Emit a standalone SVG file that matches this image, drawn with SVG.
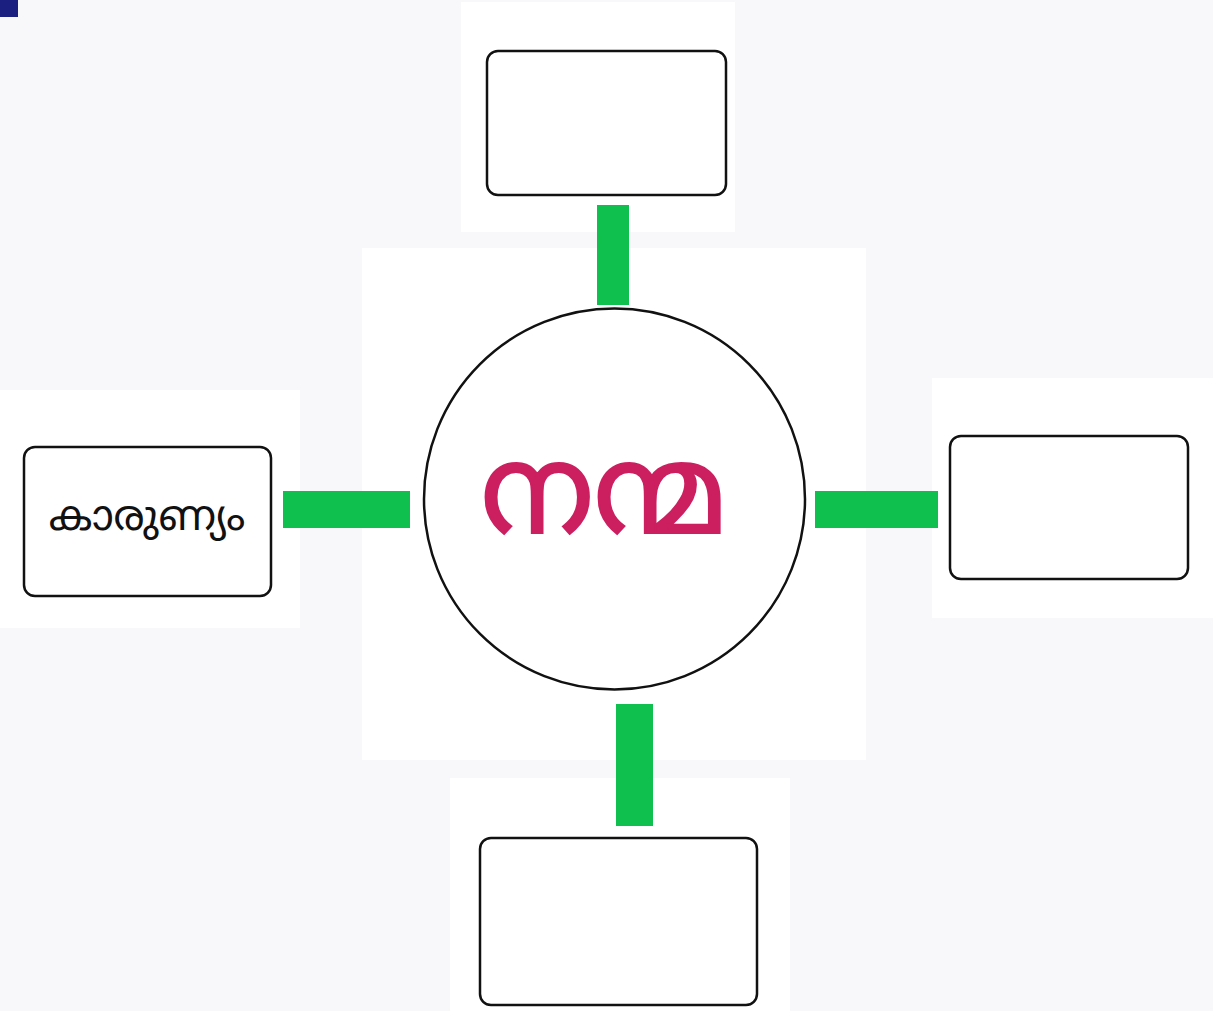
<svg xmlns="http://www.w3.org/2000/svg" width="1213" height="1011" viewBox="0 0 1213 1011">
<style>
.panel{fill:#ffffff}
.box{fill:#ffffff;stroke:#111111;stroke-width:2.5}
.conn{fill:#10c04e}
.ml{font-family:"Noto Sans Malayalam","Noto Sans","DejaVu Sans",sans-serif}
</style>
<rect width="1213" height="1011" fill="#f8f8fa"/>
<rect x="0" y="0" width="18" height="17" fill="#1b2080"/>
<g id="panels">
<rect class="panel" x="461" y="2" width="274" height="230"/>
<rect class="panel" x="362" y="248" width="504" height="512"/>
<rect class="panel" x="0" y="390" width="300" height="238"/>
<rect class="panel" x="932" y="378" width="281" height="240"/>
<rect class="panel" x="450" y="778" width="340" height="233"/>
</g>
<g id="connectors">
<rect class="conn" x="597" y="205" width="32" height="100"/>
<rect class="conn" x="283" y="491" width="127" height="37"/>
<rect class="conn" x="815" y="491" width="123" height="37"/>
<rect class="conn" x="616" y="704" width="37" height="122"/>
</g>
<g id="center">
<circle cx="614.5" cy="499" r="190.5" fill="#ffffff" stroke="#111111" stroke-width="2.5"/>
<text class="ml" x="604" y="533" font-size="124" fill="#cc1f60" text-anchor="middle" stroke="#cc1f60" stroke-width="2">നന്മ</text>
</g>
<g id="node-top"><rect class="box" x="487" y="51" width="239" height="144" rx="11"/></g>
<g id="node-left"><rect class="box" x="24" y="447" width="247" height="149" rx="11"/>
<text class="ml" x="147" y="530" font-size="42" fill="#111111" text-anchor="middle">കാരുണ്യം</text></g>
<g id="node-right"><rect class="box" x="950" y="436" width="238" height="143" rx="11"/></g>
<g id="node-bottom"><rect class="box" x="480" y="838" width="277" height="167" rx="11"/></g>
</svg>
